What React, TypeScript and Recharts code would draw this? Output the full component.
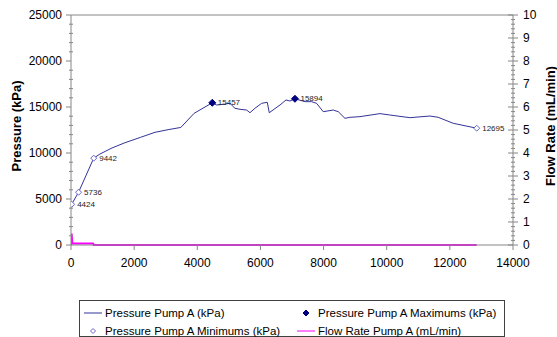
import { ComposedChart, Label, Line, ReferenceLine, Scatter, XAxis, YAxis } from "recharts";

const pressureX = [20, 240, 720, 918, 1300, 1711, 2200, 2661, 3100, 3480, 3900, 4475, 4613, 4824, 5035, 5193, 5352, 5563, 5669, 5827, 6038, 6217, 6280, 6619, 6809, 6936, 7094, 7410, 7621, 7779, 7990, 8307, 8466, 8677, 8835, 9152, 9785, 10100, 10735, 11370, 11630, 12105, 12850];
const pressureY = [4424, 5736, 9442, 9890, 10550, 11120, 11700, 12250, 12550, 12780, 14315, 15457, 15217, 15290, 15400, 14860, 14750, 14670, 14380, 14860, 15400, 15510, 14380, 15217, 15760, 15650, 15894, 15580, 15580, 15400, 14490, 14670, 14490, 13770, 13880, 13950, 14280, 14130, 13840, 14020, 13880, 13230, 12695];

const maxX = [4475, 7094];
const maxY = [15457, 15894];

const minX = [20, 240, 720, 12850];
const minY = [4424, 5736, 9442, 12695];

const flowX = [0, 20, 40, 700, 720, 12850];
const flowY = [0, 0.5, 0.07, 0.07, 0, 0];

const xTicks = [0, 2000, 4000, 6000, 8000, 10000, 12000, 14000];
const pressureTicks = [0, 5000, 10000, 15000, 20000, 25000];
const flowTicks = [0, 1, 2, 3, 4, 5, 6, 7, 8, 9, 10];

const seriesNames = [
  "Pressure Pump A (kPa)",
  "Pressure Pump A Maximums (kPa)",
  "Pressure Pump A Minimums (kPa)",
  "Flow Rate Pump A (mL/min)",
];

const zip = (xs: number[], ys: number[]) => xs.map((x, i) => ({ x, y: ys[i] }));

// 4 minor ticks between majors
const withMinor = (major: number[]) => {
  const out: number[] = [];
  for (let i = 0; i < major.length - 1; i++) {
    const step = (major[i + 1] - major[i]) / 5;
    for (let k = 0; k < 5; k++) out.push(major[i] + step * k);
  }
  out.push(major[major.length - 1]);
  return out;
};

const FONT = "'Liberation Sans', Arial, sans-serif";
const AXIS = "#868686";
const LINE = "#333399";
const MAXC = "#000080";
const MINC = "#6666cc";
const FLOW = "#ff00ff";

const isMajor = (v: number, list: number[]) => list.some((m) => Math.abs(m - v) < 1e-6);

function LeftTick(props: any) {
  const { x, y, payload } = props;
  const major = isMajor(payload.value, pressureTicks);
  return (
    <g>
      <line x1={major ? x - 5 : x - 2} x2={major ? x : x + 2} y1={y} y2={y} stroke={AXIS} />
      {major && (
        <text x={x - 9} y={y} textAnchor="end" dominantBaseline="central" fontSize={12} fontFamily={FONT} fill="#000">
          {payload.value}
        </text>
      )}
    </g>
  );
}

function RightTick(props: any) {
  const { x, y, payload } = props;
  const major = isMajor(payload.value, flowTicks);
  return (
    <g>
      <line x1={major ? x - 5 : x - 2} x2={major ? x + 5 : x + 2} y1={y} y2={y} stroke={AXIS} />
      {major && (
        <text x={x + 10} y={y} textAnchor="start" dominantBaseline="central" fontSize={12} fontFamily={FONT} fill="#000">
          {Math.round(payload.value)}
        </text>
      )}
    </g>
  );
}

function BottomTick(props: any) {
  const { x, y, payload } = props;
  return (
    <g>
      <line x1={x} x2={x} y1={y} y2={y + 5} stroke={AXIS} />
      <text x={x} y={y + 18} textAnchor="middle" dominantBaseline="central" fontSize={12} fontFamily={FONT} fill="#000">
        {payload.value}
      </text>
    </g>
  );
}

const diamond = (cx: number, cy: number, r: number) =>
  `M${cx},${cy - r}L${cx + r},${cy}L${cx},${cy + r}L${cx - r},${cy}Z`;

function MaxShape(props: any) {
  const { cx, cy, payload } = props;
  return (
    <g>
      <path d={diamond(cx, cy, 3.5)} fill={MAXC} stroke={MAXC} />
      <text x={cx + 5.5} y={cy} dominantBaseline="central" fontSize={8} fontFamily={FONT} fill="#222">
        {payload.y}
      </text>
    </g>
  );
}

function MinShape(props: any) {
  const { cx, cy, payload } = props;
  return (
    <g>
      <path d={diamond(cx, cy, 3)} fill="#fff" stroke={MINC} />
      <text x={cx + 5.5} y={cy} dominantBaseline="central" fontSize={8} fontFamily={FONT} fill="#222">
        {payload.y}
      </text>
    </g>
  );
}

function AxisTitle({ viewBox, text, dx }: any) {
  const cx = viewBox.x + dx;
  const cy = viewBox.y + viewBox.height / 2 - 4;
  return (
    <text
      x={cx}
      y={cy}
      transform={`rotate(-90 ${cx} ${cy})`}
      textAnchor="middle"
      dominantBaseline="central"
      fontSize={13}
      fontWeight="bold"
      fontFamily={FONT}
      fill="#000"
    >
      {text}
    </text>
  );
}

function LegendIcon({ index }: { index: number }) {
  if (index === 0)
    return (
      <svg width={18} height={8}>
        <line x1={0} x2={18} y1={4} y2={4} stroke={LINE} />
      </svg>
    );
  if (index === 3)
    return (
      <svg width={18} height={8}>
        <line x1={0} x2={18} y1={4} y2={4} stroke={FLOW} />
      </svg>
    );
  return (
    <svg width={18} height={8}>
      <path
        d={diamond(9, 4, index === 1 ? 3 : 2.5)}
        fill={index === 1 ? MAXC : "#fff"}
        stroke={index === 1 ? MAXC : MINC}
      />
    </svg>
  );
}

function ChartLegend() {
  const pos = [
    { left: 4, top: 5 },
    { left: 217, top: 5 },
    { left: 4, top: 23 },
    { left: 217, top: 23 },
  ];
  return (
    <div
      style={{
        position: "absolute",
        left: 79,
        top: 300,
        width: 426,
        height: 37,
        boxSizing: "border-box",
        border: "1px solid #404040",
        background: "#fff",
        fontFamily: FONT,
        fontSize: 11.5,
      }}
    >
      {seriesNames.map((name, i) => (
        <div
          key={name}
          style={{
            position: "absolute",
            left: pos[i].left,
            top: pos[i].top,
            display: "flex",
            alignItems: "center",
            height: 13,
            whiteSpace: "nowrap",
          }}
        >
          <LegendIcon index={i} />
          <span style={{ marginLeft: 3 }}>{name}</span>
        </div>
      ))}
    </div>
  );
}

export default function App() {
  return (
    <div style={{ position: "absolute", left: 0, top: 0, width: 557, height: 337, background: "#fff" }}>
      <ComposedChart width={557} height={337} margin={{ top: 15, right: 0, bottom: 62, left: 0 }}>
        <XAxis
          type="number"
          dataKey="x"
          domain={[0, 14000]}
          ticks={xTicks}
          interval={0}
          height={30}
          tickSize={0}
          tickMargin={0}
          tickLine={false}
          axisLine={{ stroke: AXIS }}
          tick={(p: any) => <BottomTick {...p} />}
          allowDataOverflow
        />
        <YAxis
          yAxisId="p"
          type="number"
          domain={[0, 25000]}
          ticks={withMinor(pressureTicks)}
          interval={0}
          width={71}
          tickSize={0}
          tickMargin={0}
          tickLine={false}
          axisLine={{ stroke: AXIS }}
          tick={(p: any) => <LeftTick {...p} />}
        >
          <Label content={(p: any) => <AxisTitle viewBox={p.viewBox} text="Pressure (kPa)" dx={16} />} />
        </YAxis>
        <YAxis
          yAxisId="f"
          orientation="right"
          type="number"
          domain={[0, 10]}
          ticks={withMinor(flowTicks)}
          interval={0}
          width={44}
          tickSize={0}
          tickMargin={0}
          tickLine={false}
          axisLine={{ stroke: AXIS }}
          tick={(p: any) => <RightTick {...p} />}
        >
          <Label content={(p: any) => <AxisTitle viewBox={p.viewBox} text="Flow Rate (mL/min)" dx={37} />} />
        </YAxis>
        <ReferenceLine yAxisId="p" y={25000} stroke={AXIS} />
        <Line
          yAxisId="p"
          data={zip(pressureX, pressureY)}
          dataKey="y"
          name={seriesNames[0]}
          type="linear"
          stroke={LINE}
          strokeWidth={1}
          dot={false}
          isAnimationActive={false}
        />
        <Line
          yAxisId="f"
          data={zip(flowX, flowY)}
          dataKey="y"
          name={seriesNames[3]}
          type="linear"
          stroke={FLOW}
          strokeWidth={2}
          dot={false}
          isAnimationActive={false}
        />
        <Scatter
          yAxisId="p"
          data={zip(maxX, maxY)}
          dataKey="y"
          name={seriesNames[1]}
          shape={(p: any) => <MaxShape {...p} />}
          isAnimationActive={false}
        />
        <Scatter
          yAxisId="p"
          data={zip(minX, minY)}
          dataKey="y"
          name={seriesNames[2]}
          shape={(p: any) => <MinShape {...p} />}
          isAnimationActive={false}
        />
      </ComposedChart>
      <ChartLegend />
    </div>
  );
}
